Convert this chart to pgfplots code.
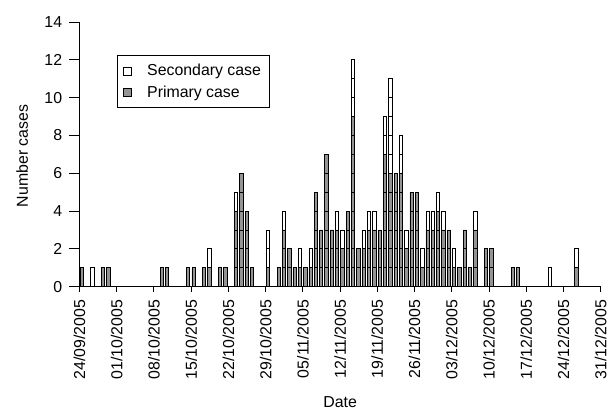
\documentclass[border=0pt]{standalone}
\usepackage{fontspec}
\setmainfont{Liberation Sans}
\usepackage{pgfplots}
\usepackage{pgfplotstable}
\pgfplotsset{compat=1.18}
\definecolor{primgray}{gray}{0.58}

% day 0 = 24/09/2005, P = primary cases, S = secondary cases
\pgfplotstableread{
day P S
0  1 0
2  0 1
4  1 0
5  1 0
15 1 0
16 1 0
20 1 0
21 1 0
23 1 0
24 1 1
26 1 0
27 1 0
29 4 1
30 6 0
31 4 0
32 1 0
35 1 2
37 1 0
38 3 1
39 2 0
40 1 0
41 1 1
42 1 0
43 1 1
44 5 0
45 3 0
46 7 0
47 3 0
48 3 1
49 2 1
50 4 0
51 9 3
52 2 0
53 2 1
54 3 1
55 3 1
56 3 0
57 7 2
58 6 5
59 6 0
60 6 2
61 2 1
62 5 0
63 5 0
64 1 1
65 3 1
66 3 1
67 4 1
68 3 1
69 3 0
70 1 1
71 1 0
72 3 0
73 1 0
74 3 1
76 2 0
77 2 0
81 1 0
82 1 0
88 0 1
93 1 1
}\epidata

\newcommand\fs{\fontsize{11.9}{14}\selectfont}

\begin{document}
\begin{tikzpicture}
\begin{axis}[
    scale only axis,
    width=390.9pt, height=198.5pt,
    xmin=0, xmax=98, ymin=0, ymax=14,
    axis x line*=bottom, axis y line*=left,
    axis line style={line width=0.7pt},
    tick align=outside,
    major tick length=7.5pt,
    tick style={line width=0.7pt, black},
    xtick style={yscale=0.57},
    xtick={0,7,...,98},
    xticklabels={24/09/2005,01/10/2005,08/10/2005,15/10/2005,22/10/2005,29/10/2005,05/11/2005,12/11/2005,19/11/2005,26/11/2005,03/12/2005,10/12/2005,17/12/2005,24/12/2005,31/12/2005},
    ytick={0,2,...,14},
    /pgf/number format/assume math mode=true,
    xticklabel style={yshift=1.2pt, rotate=90, anchor=east, font=\fs},
    yticklabel style={xshift=-2pt, font=\fs},
    xlabel={Date}, ylabel={Number cases},
    label style={font=\fs},
    xlabel style={at={(axis description cs:0.5,-0.436)}, anchor=center},
    ylabel style={at={(axis description cs:-0.110,0.494)}, anchor=center},
    legend style={at={(0.0725,0.875)}, anchor=north west, draw=black,
        line width=0.7pt, font=\fs, inner xsep=4pt, inner ysep=4.5pt,
        cells={anchor=west}, row sep=2pt,
        /tikz/every odd column/.append style={column sep=9.5pt}},
]
\addplot[ybar, bar shift=0pt, bar width=0.62, draw=black, fill=white, line width=0.6pt,
    legend image code/.code={\draw[draw=black, fill=white, line width=0.6pt] (0pt,-3pt) rectangle (6pt,3pt);}]
    table[x expr=\thisrow{day}+0.45, y expr=\thisrow{P}+\thisrow{S}] {\epidata};
\addlegendentry{Secondary case}
\addplot[ybar, bar shift=0pt, bar width=0.62, draw=black, fill=primgray, line width=0.6pt,
    legend image code/.code={\draw[draw=black, fill=primgray, line width=0.6pt] (0pt,-3pt) rectangle (6pt,3pt);}]
    table[x expr=\thisrow{day}+0.45, y=P] {\epidata};
\addlegendentry{Primary case}
\pgfplotsinvokeforeach{1,...,11}{
\addplot[ybar, bar shift=0pt, bar width=0.62, draw=black, fill=none, line width=0.6pt, forget plot]
    table[x expr=\thisrow{day}+0.45, y expr={min(\thisrow{P}+\thisrow{S},#1)}] {\epidata};
}
\end{axis}
\pgfresetboundingbox
\path[use as bounding box] (-59.6pt,-92.5pt) rectangle (398.6pt,215pt);
\end{tikzpicture}
\end{document}
